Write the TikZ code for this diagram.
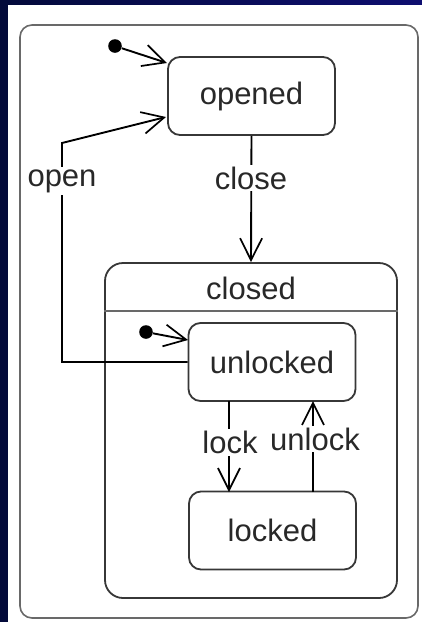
\documentclass[tikz,border=0pt]{standalone}
\usepackage{fontspec}
\setmainfont{Liberation Sans}
\usetikzlibrary{arrows.meta,calc}
\definecolor{navyL}{RGB}{3,10,58}
\definecolor{navyR}{RGB}{14,14,112}
\definecolor{edge}{RGB}{55,55,55}
\definecolor{frame}{RGB}{105,105,105}
\definecolor{txt}{RGB}{40,40,40}
\begin{document}
\begin{tikzpicture}[x=0.5pt,y=-0.5pt,
  lblfont/.style={font=\fontsize{15.5}{18}\selectfont, text=txt},
  state/.style={draw=edge, line width=0.9pt, rounded corners=6pt,
    minimum width=83.5pt, minimum height=39pt, inner sep=0pt, lblfont},
  tr/.style={draw=black, line width=0.95pt,
    -{Straight Barb[length=11pt,width=11pt,line width=0.85pt]}},
  lbl/.style={fill=white, inner sep=1pt, lblfont},
  initdot/.style={circle, fill=black, minimum size=6.8pt, inner sep=0pt}]
  \useasboundingbox (0,0) rectangle (422,622);
  % page background
  \fill[navyL] (0,0) rectangle (422,622);
  \shade[left color=navyL, right color=navyR] (0,0) rectangle (422,5);
  \fill[white] (8,5) rectangle (422,622);

  % enclosing state machine frame
  \node[draw=frame, line width=0.8pt, rounded corners=6pt,
        minimum width=199pt, minimum height=296.5pt, inner sep=0pt]
        (machine) at (219,321.5) {};

  % top-level states
  \node[state] (opened) at (251.5,96) {opened};
  \node[draw=edge, line width=0.9pt, rounded corners=9pt,
        minimum width=146pt, minimum height=167.5pt, inner sep=0pt]
        (closed) at (251,430.5) {};
  \node[lblfont] (closedname) at (251,288) {closed};
  \draw[draw=frame, line width=1.1pt] ($(closed.north west)+(0,49)$) -- ($(closed.north east)+(0,49)$);

  % substates of closed
  \node[state] (unlocked) at (272,362) {unlocked};
  \node[state] (locked) at (272.5,530.5) {locked};

  % initial pseudostates
  \node[initdot] (init1) at (115,46) {};
  \node[initdot] (init2) at (146,332) {};
  \coordinate (openedin) at (167,63);
  \coordinate (unlockedin) at (188,340);
  \draw[tr] (init1) -- (openedin);
  \draw[tr] (init2) -- (unlockedin);

  % close
  \draw[tr] (opened.south) -- (closed.north);
  \node[lbl] (closelbl) at (251,178) {close};

  % open: from unlocked back to opened
  \coordinate (openbendlow) at (62,362);
  \coordinate (openbendhigh) at (62,143);
  \coordinate (openedside) at (166,117);
  \draw[tr] (unlocked.west) -- (openbendlow) -- (openbendhigh) -- (openedside);
  \node[lbl] (openlbl) at (62,181) {open};

  % lock / unlock
  \coordinate (lockfrom) at (229,401);
  \coordinate (lockto) at (229,492);
  \coordinate (unlockfrom) at (313,492);
  \coordinate (unlockto) at (313,401);
  \draw[tr] (lockfrom) -- (lockto);
  \draw[tr] (unlockfrom) -- (unlockto);
  \node[lbl] (locklbl) at (230,442.5) {lock};
  \node[lbl] (unlocklbl) at (315,439) {unlock};
\end{tikzpicture}
\end{document}
